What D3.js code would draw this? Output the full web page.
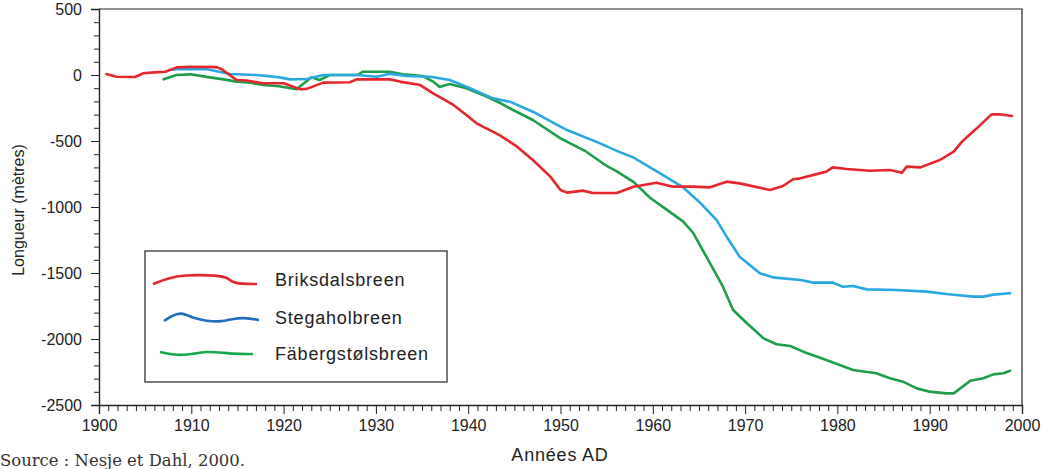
<!DOCTYPE html>
<html>
<head>
<meta charset="utf-8">
<script src="https://cdn.jsdelivr.net/npm/d3@7"></script>
<style>
  body { margin: 0; background: #fff; }
  svg { display: block; }
  .tick text { font-family: "Liberation Sans", Arial, sans-serif; font-size: 16px; fill: #222; }
  .axis path, .axis line { stroke: #222; }
</style>
</head>
<body>
<svg id="chart" width="1044" height="469"></svg>
<script>
// series: Briksdalsbreen
const briksYears = [1900.8, 1901.9, 1903.9, 1904.8, 1906, 1907.2, 1908.4, 1910, 1912.7, 1913.3, 1914.9, 1916, 1917.8, 1920, 1921.8, 1922.5, 1924.3, 1927.2, 1927.9, 1931.5, 1932.6, 1934.8, 1936.2, 1938.4, 1939.8, 1940.9, 1943.4, 1945.3, 1947, 1948.9, 1950, 1950.7, 1952.4, 1953.5, 1956.1, 1957.9, 1960.4, 1962.2, 1964.4, 1966.2, 1968, 1969.4, 1972.7, 1974.1, 1975.2, 1976, 1978.8, 1979.5, 1981, 1983.5, 1985.7, 1987, 1987.5, 1989, 1991.1, 1992.6, 1993.5, 1995.1, 1996.7, 1997.6, 1998.9];
const briksValues = [7, -13, -15, 13, 20, 25, 58, 62, 60, 43, -38, -42, -63, -63, -108, -105, -58, -55, -33, -33, -50, -76, -139, -227, -303, -366, -455, -543, -644, -770, -871, -891, -876, -894, -894, -846, -816, -846, -846, -851, -808, -821, -871, -841, -790, -783, -732, -700, -712, -725, -720, -740, -694, -700, -644, -581, -505, -404, -298, -298, -311];

// series: Stegaholbreen
const stegaYears = [1907.7, 1908.4, 1911.7, 1914.2, 1917.1, 1919.6, 1920.7, 1922.5, 1924.3, 1927.9, 1930.1, 1931.5, 1933.3, 1935.9, 1938, 1939.8, 1942.7, 1944.5, 1947, 1950.7, 1954.3, 1956.1, 1957.9, 1959.7, 1960.8, 1963.3, 1965.1, 1966.9, 1968, 1969.4, 1971.6, 1973, 1976, 1977.4, 1979.5, 1980.6, 1981.7, 1983.2, 1986.4, 1989.7, 1991.8, 1994.7, 1995.8, 1996.9, 1998.7];
const stegaValues = [38, 43, 43, 8, 0, -18, -33, -30, 0, 0, -13, 10, -8, -13, -38, -88, -177, -202, -278, -417, -518, -575, -625, -700, -745, -852, -966, -1098, -1225, -1376, -1502, -1533, -1553, -1573, -1573, -1604, -1598, -1624, -1629, -1641, -1659, -1679, -1679, -1664, -1654];

// series: Fäbergstølsbreen
const faberYears = [1907, 1908.4, 1909.9, 1912, 1913.5, 1914.9, 1916.4, 1917.8, 1919.5, 1921.4, 1923, 1923.9, 1925, 1928, 1928.6, 1931.5, 1932.9, 1935.1, 1936.2, 1936.9, 1938, 1939.8, 1942, 1943.4, 1944.5, 1947, 1950, 1952.8, 1955, 1956.1, 1957.9, 1959.7, 1961.5, 1963.3, 1964.4, 1965.8, 1967.6, 1968.7, 1970.2, 1972, 1973.4, 1974.9, 1976.3, 1978.8, 1981.7, 1984.2, 1985.7, 1987.1, 1988.6, 1990, 1991.8, 1992.6, 1994.4, 1995.8, 1996.9, 1998, 1998.7];
const faberValues = [-33, 0, 5, -18, -33, -50, -58, -76, -85, -108, -18, -38, 0, 0, 25, 25, 5, -8, -50, -90, -68, -101, -164, -210, -252, -341, -480, -581, -689, -730, -810, -930, -1020, -1111, -1199, -1376, -1604, -1780, -1881, -1995, -2040, -2053, -2096, -2159, -2235, -2260, -2298, -2323, -2374, -2399, -2412, -2412, -2316, -2298, -2268, -2260, -2240];

const seriesNames = ["Briksdalsbreen", "Stegaholbreen", "Fäbergstølsbreen"];
const xTickValues = [1900, 1910, 1920, 1930, 1940, 1950, 1960, 1970, 1980, 1990, 2000];
const yTickValues = [500, 0, -500, -1000, -1500, -2000, -2500];

const lineColors = ["#e5262c", "#2aa8e0", "#1e9e4a"];
const legendColors = ["#e5262c", "#1f6fbf", "#16a84a"];
// hand-drawn legend swatch shapes (relative x 0..1, y offset px)
const legendShapes = [
  [[0, 4], [0.15, -2], [0.3, -5], [0.55, -5], [0.72, -3], [0.75, 2], [0.85, 4], [1, 4]],
  [[0, 3], [0.08, -2], [0.18, -6], [0.3, 0], [0.45, 3], [0.6, 4], [0.75, 0], [0.88, 0], [1, 2]],
  [[0, -2], [0.15, 1], [0.3, 1], [0.5, -3], [0.7, -1], [0.85, 0], [1, 0]]
];

const svg = d3.select("#chart");
const margin = { left: 99, right: 22, top: 9, bottom: 64 };
const width = +svg.attr("width");
const height = +svg.attr("height");

const x = d3.scaleLinear().domain([1900, 2000]).range([margin.left, width - margin.right]);
const y = d3.scaleLinear().domain([-2500, 500]).range([height - margin.bottom, margin.top]);

// frame top & right
svg.append("path")
  .attr("d", `M${x(1900)},${y(500)}H${x(2000)}V${y(-2500)}`)
  .attr("fill", "none").attr("stroke", "#222").attr("stroke-width", 1.2);

// x axis
const xMinor = d3.range(1900, 2001, 1).filter(v => v % 10 !== 0);
svg.append("g").attr("class", "axis")
  .attr("transform", `translate(0,${y(-2500)})`)
  .call(d3.axisBottom(x).tickValues(xMinor).tickSize(6).tickFormat(""))
  .call(g => g.select(".domain").remove());
svg.append("g").attr("class", "axis")
  .attr("transform", `translate(0,${y(-2500)})`)
  .call(d3.axisBottom(x).tickValues(xTickValues).tickSize(9).tickPadding(6).tickFormat(d3.format("d")))
  .call(g => g.select(".domain").attr("stroke-width", 1.4));

// y axis
const yMinor = d3.range(-2500, 501, 100).filter(v => v % 500 !== 0);
svg.append("g").attr("class", "axis")
  .attr("transform", `translate(${x(1900)},0)`)
  .call(d3.axisLeft(y).tickValues(yMinor).tickSize(5).tickFormat(""))
  .call(g => g.select(".domain").remove());
svg.append("g").attr("class", "axis")
  .attr("transform", `translate(${x(1900)},0)`)
  .call(d3.axisLeft(y).tickValues(yTickValues).tickSize(8).tickPadding(9).tickFormat(d => d < 0 ? "-" + Math.abs(d) : d))
  .call(g => g.select(".domain").attr("stroke-width", 1.4));

// lines
const allSeries = [
  briksYears.map((yr, i) => [yr, briksValues[i]]),
  stegaYears.map((yr, i) => [yr, stegaValues[i]]),
  faberYears.map((yr, i) => [yr, faberValues[i]])
];
const line = d3.line().x(d => x(d[0])).y(d => y(d[1]));
// green, blue, then red on top
[2, 1, 0].forEach(k => {
  svg.append("path")
    .datum(allSeries[k])
    .attr("d", line)
    .attr("fill", "none")
    .attr("stroke", lineColors[k])
    .attr("stroke-width", 2.6)
    .attr("stroke-linejoin", "round")
    .attr("stroke-linecap", "round");
});

// legend
const legend = svg.append("g").attr("transform", "translate(145,251)");
legend.append("rect")
  .attr("width", 302).attr("height", 131)
  .attr("fill", "#fff").attr("stroke", "#222").attr("stroke-width", 1.2);
const swatchX = [[8, 112], [19, 114], [15, 108]];
const rowY = [29, 67, 103];
const swatchLine = d3.line().curve(d3.curveBasis);
seriesNames.forEach((name, i) => {
  const sx = d3.scaleLinear().domain([0, 1]).range(swatchX[i]);
  legend.append("path")
    .attr("d", swatchLine(legendShapes[i].map(p => [sx(p[0]), rowY[i] + p[1]])))
    .attr("fill", "none").attr("stroke", legendColors[i]).attr("stroke-width", 2.6);
  legend.append("text")
    .attr("x", 130).attr("y", rowY[i] + 6)
    .attr("font-family", "Liberation Sans, Arial, sans-serif")
    .attr("font-size", 18).attr("letter-spacing", 0.8).attr("fill", "#222")
    .text(name);
});

// axis titles
svg.append("text")
  .attr("x", 560).attr("y", 461)
  .attr("text-anchor", "middle")
  .attr("font-family", "Liberation Sans, Arial, sans-serif")
  .attr("font-size", 18).attr("letter-spacing", 0.8).attr("fill", "#222")
  .text("Années AD");
svg.append("text")
  .attr("transform", "translate(24,210) rotate(-90)")
  .attr("text-anchor", "middle")
  .attr("font-family", "Liberation Sans, Arial, sans-serif")
  .attr("font-size", 16).attr("fill", "#222")
  .text("Longueur (mètres)");

// source
svg.append("text")
  .attr("x", 0).attr("y", 466)
  .attr("font-family", "DejaVu Serif, serif")
  .attr("font-size", 16).attr("fill", "#333")
  .attr("textLength", 245).attr("lengthAdjust", "spacingAndGlyphs")
  .text("Source : Nesje et Dahl, 2000.");
</script>
</body>
</html>
